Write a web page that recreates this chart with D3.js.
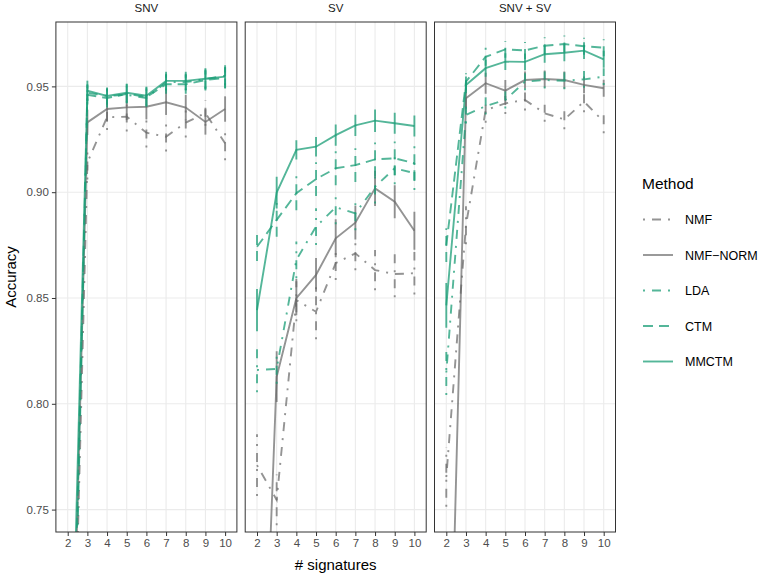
<!DOCTYPE html>
<html><head><meta charset="utf-8">
<script src="https://cdn.jsdelivr.net/npm/d3@7"></script>
<style>body{margin:0;background:#fff;} text{font-family:"Liberation Sans",Arial,sans-serif;}</style>
</head><body><svg id="c" width="759" height="577"></svg>
<script>
const xs = [2,3,4,5,6,7,8,9,10];
const panels = ["SNV","SV","SNV + SV"];
const methods = ["NMF","NMF\u2212NORM","LDA","CTM","MMCTM"];
const yTicks = [0.75,0.80,0.85,0.90,0.95];

// SNV
const nmf_snv      = [0.550,0.914,0.9354,0.9357,0.9281,0.9262,0.9329,0.9374,0.9231];
const nmf_snv_se   = [0.010,0.008,0.006,0.007,0.007,0.007,0.007,0.006,0.008];
const norm_snv     = [0.570,0.933,0.9393,0.9401,0.9404,0.9425,0.9400,0.9332,0.9393];
const norm_snv_se  = [0.010,0.006,0.006,0.006,0.006,0.006,0.006,0.006,0.006];
const lda_snv      = [0.530,0.947,0.9455,0.9460,0.9445,0.9520,0.9520,0.9535,0.9550];
const lda_snv_se   = [0.008,0.004,0.004,0.004,0.004,0.004,0.004,0.0045,0.0045];
const ctm_snv      = [0.560,0.946,0.9445,0.9465,0.9450,0.9510,0.9510,0.9530,0.9540];
const ctm_snv_se   = [0.008,0.0045,0.0045,0.0045,0.0045,0.0045,0.0045,0.005,0.005];
const mm_snv       = [0.590,0.948,0.9455,0.9470,0.9456,0.9526,0.9526,0.9536,0.9546];
const mm_snv_se    = [0.008,0.0047,0.0034,0.0043,0.0043,0.0043,0.0043,0.005,0.0054];
// SV
const nmf_sv       = [0.771,0.7546,0.849,0.8435,0.8665,0.8711,0.8632,0.8613,0.8617];
const nmf_sv_se    = [0.0146,0.012,0.010,0.013,0.008,0.008,0.0095,0.011,0.010];
const norm_sv      = [0.570,0.8128,0.8499,0.8609,0.8782,0.8856,0.9018,0.8955,0.8818];
const norm_sv_se   = [0.012,0.012,0.008,0.008,0.009,0.008,0.0083,0.0078,0.009];
const lda_sv       = [0.816,0.8165,0.868,0.8837,0.8929,0.8900,0.9026,0.9113,0.9090];
const lda_sv_se    = [0.0106,0.007,0.0087,0.0087,0.008,0.008,0.008,0.0075,0.008];
const ctm_sv       = [0.8742,0.8869,0.8995,0.9062,0.9113,0.9128,0.9155,0.9160,0.9137];
const ctm_sv_se    = [0.0067,0.008,0.008,0.008,0.008,0.008,0.008,0.008,0.008];
const mm_sv        = [0.8443,0.8998,0.9200,0.9215,0.9270,0.9316,0.9338,0.9326,0.9313];
const mm_sv_se     = [0.010,0.0075,0.0046,0.0046,0.005,0.005,0.0053,0.005,0.005];
// SNV + SV
const nmf_all      = [0.7654,0.8844,0.9388,0.9420,0.9436,0.9373,0.9344,0.9428,0.9333];
const nmf_all_se   = [0.014,0.009,0.006,0.005,0.005,0.004,0.0047,0.005,0.0055];
const norm_all     = [0.587,0.9444,0.9515,0.9480,0.9530,0.9535,0.9530,0.9507,0.9491];
const norm_all_se  = [0.010,0.005,0.005,0.005,0.004,0.004,0.004,0.004,0.004];
const lda_all      = [0.8148,0.9365,0.9407,0.9436,0.9522,0.9530,0.9527,0.9533,0.9546];
const lda_all_se   = [0.0106,0.004,0.004,0.004,0.004,0.004,0.004,0.004,0.004];
const ctm_all      = [0.8750,0.9522,0.9640,0.9675,0.9670,0.9692,0.9700,0.9690,0.9683];
const ctm_all_se   = [0.008,0.004,0.0043,0.004,0.004,0.004,0.004,0.004,0.004];
const mm_all       = [0.8465,0.9507,0.9586,0.9617,0.9616,0.9652,0.9659,0.9669,0.9628];
const mm_all_se    = [0.0106,0.004,0.004,0.004,0.004,0.004,0.004,0.004,0.004];

const values = [
  [nmf_snv, norm_snv, lda_snv, ctm_snv, mm_snv],
  [nmf_sv, norm_sv, lda_sv, ctm_sv, mm_sv],
  [nmf_all, norm_all, lda_all, ctm_all, mm_all]
];
const errors = [
  [nmf_snv_se, norm_snv_se, lda_snv_se, ctm_snv_se, mm_snv_se],
  [nmf_sv_se, norm_sv_se, lda_sv_se, ctm_sv_se, mm_sv_se],
  [nmf_all_se, norm_all_se, lda_all_se, ctm_all_se, mm_all_se]
];

const GREY = "#666666", GREEN = "#1B9E77";
const colors = [GREY, GREY, GREEN, GREEN, GREEN];
const alphas = [0.7, 0.7, 0.75, 0.75, 0.75];
const DOTDASH = "2,7,9,7", DASH = "10,6";
const dashes = [DOTDASH, null, DOTDASH, DASH, null];
const LW = 1.9;

const svg = d3.select("#c");
const panelW = 181, panelTop = 22, panelBot = 532, panelStep = 189.3, panelX0 = 55.9;

const y = d3.scaleLinear().domain([0.73941, 0.98043]).range([panelBot, panelTop]);
const x = d3.scalePoint().domain(xs).range([0, panelW]).padding(0.6);

panels.forEach((pname, pi) => {
  const left = panelX0 + pi * panelStep;
  const g = svg.append("g").attr("transform", `translate(${left},0)`);
  g.append("rect").attr("x",0).attr("y",panelTop).attr("width",panelW).attr("height",panelBot-panelTop).attr("fill","#fff");
  g.selectAll(".gy").data(yTicks).enter().append("line")
    .attr("x1",0).attr("x2",panelW).attr("y1",d=>y(d)).attr("y2",d=>y(d))
    .attr("stroke","#ebebeb").attr("stroke-width",1.1);
  g.selectAll(".gx").data(xs).enter().append("line")
    .attr("x1",d=>x(d)).attr("x2",d=>x(d)).attr("y1",panelTop).attr("y2",panelBot)
    .attr("stroke","#ebebeb").attr("stroke-width",1.1);
  const cid = "clip"+pi;
  svg.append("clipPath").attr("id",cid).append("rect")
    .attr("x",0).attr("y",panelTop).attr("width",panelW).attr("height",panelBot-panelTop);
  const data = g.append("g").attr("clip-path",`url(#${cid})`);
  const line = d3.line().x((d,i)=>x(xs[i])).y(d=>y(d));
  methods.forEach((m, mi) => {
    const vals = values[pi][mi], se = errors[pi][mi];
    data.append("path").datum(vals).attr("d", line)
      .attr("fill","none").attr("stroke",colors[mi]).attr("stroke-opacity",alphas[mi])
      .attr("stroke-width",LW).attr("stroke-dasharray",dashes[mi]);
    data.selectAll(null).data(vals).enter().append("line")
      .attr("x1",(d,i)=>x(xs[i])).attr("x2",(d,i)=>x(xs[i]))
      .attr("y1",(d,i)=>y(d - se[i])).attr("y2",(d,i)=>y(d + se[i]))
      .attr("stroke",colors[mi]).attr("stroke-opacity",alphas[mi])
      .attr("stroke-width",LW).attr("stroke-dasharray",dashes[mi]);
  });
  g.append("rect").attr("x",0).attr("y",panelTop).attr("width",panelW).attr("height",panelBot-panelTop)
    .attr("fill","none").attr("stroke","#333333").attr("stroke-width",1);
  g.append("text").attr("x",panelW/2).attr("y",12).attr("text-anchor","middle")
    .attr("font-size",11.5).attr("fill","#1a1a1a").text(pname);
  const xa = g.append("g").attr("transform",`translate(0,${panelBot})`)
    .call(d3.axisBottom(x).tickSize(4).tickPadding(3));
  xa.select(".domain").remove();
  xa.selectAll("line").attr("stroke","#333333");
  xa.selectAll("text").attr("font-size",11.5).attr("fill","#4d4d4d").attr("font-family","Liberation Sans, Arial, sans-serif");
  if (pi === 0) {
    const ya = g.append("g").call(d3.axisLeft(y).tickValues(yTicks).tickFormat(d3.format(".2f")).tickSize(4).tickPadding(3));
    ya.select(".domain").remove();
    ya.selectAll("line").attr("stroke","#333333");
    ya.selectAll("text").attr("font-size",11.5).attr("fill","#4d4d4d").attr("font-family","Liberation Sans, Arial, sans-serif");
  }
});

svg.append("text").attr("x", panelX0 + panelStep + panelW/2).attr("y",570).attr("text-anchor","middle")
  .attr("font-size",15).attr("fill","#000").text("# signatures");
svg.append("text").attr("transform",`translate(16,277) rotate(-90)`).attr("text-anchor","middle")
  .attr("font-size",15).attr("fill","#000").text("Accuracy");

const lg = svg.append("g");
lg.append("text").attr("x",642).attr("y",189).attr("font-size",15.5).attr("fill","#000").text("Method");
methods.forEach((m, mi) => {
  const ky = 219.5 + mi*35.5;
  lg.append("line").attr("x1",643).attr("x2",673).attr("y1",ky).attr("y2",ky)
    .attr("stroke",colors[mi]).attr("stroke-opacity",alphas[mi]).attr("stroke-width",LW)
    .attr("stroke-dasharray",dashes[mi]);
  lg.append("text").attr("x",685).attr("y",ky+4.5).attr("font-size",12.5).attr("fill","#000").text(m);
});
</script></body></html>
